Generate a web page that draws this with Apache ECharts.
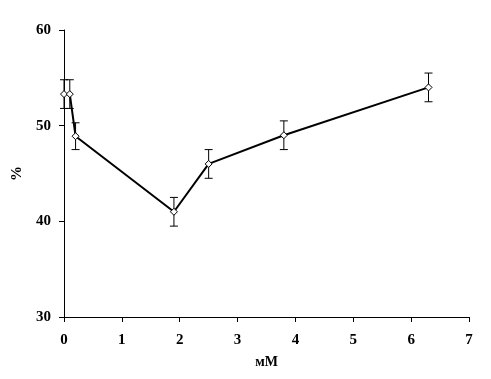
<!DOCTYPE html>
<html>
<head>
<meta charset="utf-8">
<script src="https://cdn.jsdelivr.net/npm/echarts@6/dist/echarts.min.js"></script>
<style>
html,body{margin:0;padding:0;background:#fff;}
#chart{width:491px;height:379px;}
</style>
</head>
<body>
<div id="chart"></div>
<script>
var xValues = [0.0, 0.1, 0.2, 1.9, 2.5, 3.8, 6.3];
var yValues = [53.3, 53.3, 48.9, 41.0, 46.0, 49.0, 54.0];
var yErrors = [1.5, 1.5, 1.4, 1.5, 1.5, 1.5, 1.5];
var xAxisName = 'мМ';
var yAxisName = '%';

var points = xValues.map(function (x, i) { return [x, yValues[i]]; });
var errData = xValues.map(function (x, i) { return [x, yValues[i] - yErrors[i], yValues[i] + yErrors[i]]; });

var font = 'Liberation Serif';
var chart = echarts.init(document.getElementById('chart'), null, {renderer: 'canvas'});
chart.setOption({
  animation: false,
  backgroundColor: '#fff',
  grid: {left: 64, right: 22, top: 30, bottom: 62, containLabel: false},
  xAxis: {
    type: 'value', min: 0, max: 7, interval: 1,
    name: xAxisName, nameLocation: 'middle', nameGap: 38,
    nameTextStyle: {fontFamily: font, fontWeight: 'bold', fontSize: 14, color: '#000'},
    axisLine: {show: true, onZero: false, lineStyle: {color: '#000', width: 1}},
    axisTick: {show: true, inside: false, length: 5, lineStyle: {color: '#000'}},
    axisLabel: {fontFamily: font, fontWeight: 'bold', fontSize: 15, color: '#000', margin: 16},
    splitLine: {show: false}
  },
  yAxis: {
    type: 'value', min: 30, max: 60, interval: 10,
    name: yAxisName, nameLocation: 'middle', nameGap: 37, nameRotate: 90,
    nameTextStyle: {fontFamily: font, fontWeight: 'bold', fontSize: 15, color: '#000'},
    axisLine: {show: true, lineStyle: {color: '#000', width: 1}},
    axisTick: {show: true, inside: false, length: 5, lineStyle: {color: '#000'}},
    axisLabel: {fontFamily: font, fontWeight: 'bold', fontSize: 15, color: '#000', margin: 13},
    splitLine: {show: false}
  },
  series: [
    {
      type: 'custom',
      z: 1,
      data: errData,
      encode: {x: 0, y: [1, 2]},
      renderItem: function (params, api) {
        var x = api.value(0);
        var lo = api.coord([x, api.value(1)]);
        var hi = api.coord([x, api.value(2)]);
        var hw = 4;
        var style = {stroke: '#000', lineWidth: 1};
        return {
          type: 'group',
          children: [
            {type: 'line', shape: {x1: lo[0], y1: lo[1], x2: hi[0], y2: hi[1]}, style: style},
            {type: 'line', shape: {x1: lo[0] - hw, y1: lo[1], x2: lo[0] + hw, y2: lo[1]}, style: style},
            {type: 'line', shape: {x1: hi[0] - hw, y1: hi[1], x2: hi[0] + hw, y2: hi[1]}, style: style}
          ]
        };
      }
    },
    {
      type: 'line',
      z: 2,
      data: points,
      symbol: 'diamond',
      symbolSize: 7,
      showAllSymbol: true,
      lineStyle: {color: '#000', width: 2},
      itemStyle: {color: '#fff', borderColor: '#000', borderWidth: 1}
    }
  ]
});
</script>
</body>
</html>
